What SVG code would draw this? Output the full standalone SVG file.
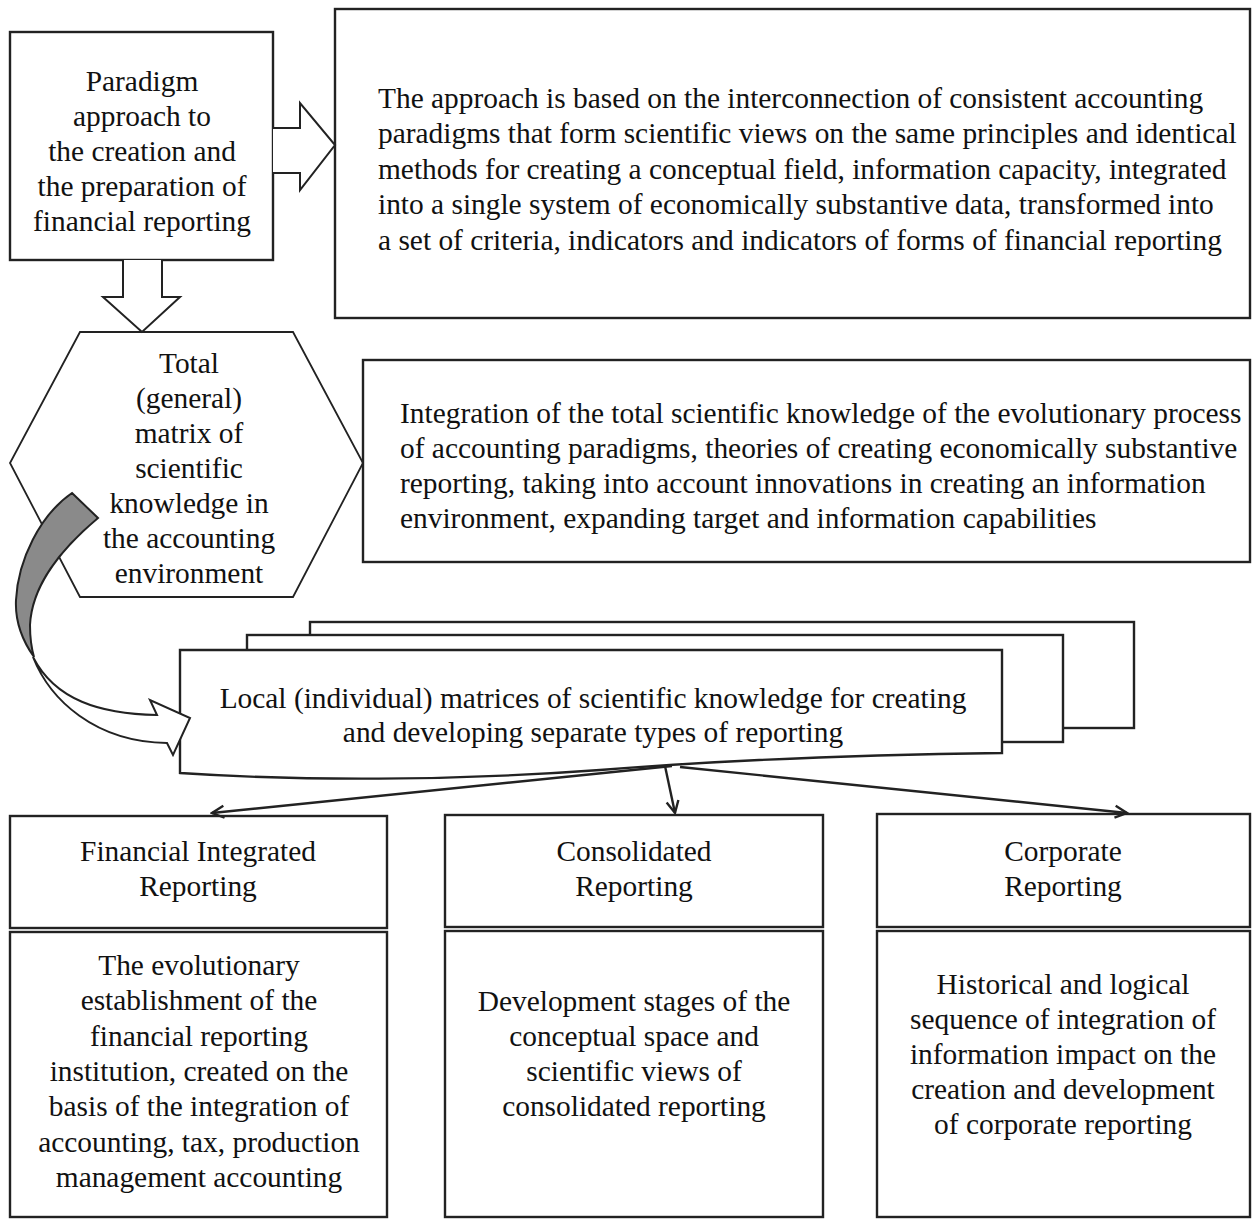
<svg xmlns="http://www.w3.org/2000/svg" width="1252" height="1221" viewBox="0 0 1252 1221">
<style>
.b{fill:#fff;stroke:#222;stroke-width:2.4}
.h{fill:#fff;stroke:#222;stroke-width:1.8}
.l{fill:none;stroke:#222;stroke-width:2.4}
.ba{fill:#fff;stroke:#222;stroke-width:2;stroke-linejoin:miter}
.t{font-family:"Liberation Serif","Times New Roman",serif;font-size:29.4px;fill:#111}
.c{text-anchor:middle}
</style>
<defs>
<marker id="ah" viewBox="0 0 16 16" refX="14" refY="8" markerWidth="16" markerHeight="16" markerUnits="userSpaceOnUse" orient="auto">
<path d="M2,2 L14,8 L2,14" fill="none" stroke="#222" stroke-width="2.4"/>
</marker>
</defs>
<rect width="1252" height="1221" fill="#fff"/>

<g id="paradigm">
<rect class="b" x="10" y="32" width="263" height="228"/>
<text class="t c" x="142" y="91">Paradigm</text>
<text class="t c" x="142" y="126">approach to</text>
<text class="t c" x="142" y="161">the creation and</text>
<text class="t c" x="142" y="196">the preparation of</text>
<text class="t c" x="142" y="231">financial reporting</text>
</g>

<g id="approach-desc">
<rect class="b" x="335" y="9" width="915" height="309"/>
<text class="t" x="378" y="108">The approach is based on the interconnection of consistent accounting</text>
<text class="t" x="378" y="143">paradigms that form scientific views on the same principles and identical</text>
<text class="t" x="378" y="179">methods for creating a conceptual field, information capacity, integrated</text>
<text class="t" x="378" y="214">into a single system of economically substantive data, transformed into</text>
<text class="t" x="378" y="250">a set of criteria, indicators and indicators of forms of financial reporting</text>
</g>

<g id="total-matrix">
<polygon class="h" points="80,332 293,332 363,463 293,597 80,597 10,463"/>
<text class="t c" x="189" y="373">Total</text>
<text class="t c" x="189" y="408">(general)</text>
<text class="t c" x="189" y="443">matrix of</text>
<text class="t c" x="189" y="478">scientific</text>
<text class="t c" x="189" y="513">knowledge in</text>
<text class="t c" x="189" y="548">the accounting</text>
<text class="t c" x="189" y="583">environment</text>
</g>

<g id="integration-desc">
<rect class="b" x="363" y="360" width="887" height="202"/>
<text class="t" x="400" y="423">Integration of the total scientific knowledge of the evolutionary process</text>
<text class="t" x="400" y="458">of accounting paradigms, theories of creating economically substantive</text>
<text class="t" x="400" y="493">reporting, taking into account innovations in creating an information</text>
<text class="t" x="400" y="528">environment, expanding target and information capabilities</text>
</g>

<g id="local-matrices">
<rect class="b" x="310" y="622" width="824" height="106"/>
<rect class="b" x="247" y="635" width="816" height="107"/>
<path class="b" d="M180,773 V650 H1002 V753 C 850,755 700,762 600,770 C 450,781 300,781 180,773 Z"/>
<text class="t c" x="593" y="708">Local (individual) matrices of scientific knowledge for creating</text>
<text class="t c" x="593" y="742">and developing separate types of reporting</text>
</g>

<g id="financial-integrated">
<rect class="b" x="10" y="816" width="377" height="112"/>
<text class="t c" x="198" y="861">Financial Integrated</text>
<text class="t c" x="198" y="896">Reporting</text>
<rect class="b" x="10" y="932" width="377" height="285"/>
<text class="t c" x="199" y="975">The evolutionary</text>
<text class="t c" x="199" y="1010">establishment of the</text>
<text class="t c" x="199" y="1046">financial reporting</text>
<text class="t c" x="199" y="1081">institution, created on the</text>
<text class="t c" x="199" y="1116">basis of the integration of</text>
<text class="t c" x="199" y="1152">accounting, tax, production</text>
<text class="t c" x="199" y="1187">management accounting</text>
</g>

<g id="consolidated">
<rect class="b" x="445" y="815" width="378" height="112"/>
<text class="t c" x="634" y="861">Consolidated</text>
<text class="t c" x="634" y="896">Reporting</text>
<rect class="b" x="445" y="931" width="378" height="286"/>
<text class="t c" x="634" y="1011">Development stages of the</text>
<text class="t c" x="634" y="1046">conceptual space and</text>
<text class="t c" x="634" y="1081">scientific views of</text>
<text class="t c" x="634" y="1116">consolidated reporting</text>
</g>

<g id="corporate">
<rect class="b" x="877" y="814" width="373" height="113"/>
<text class="t c" x="1063" y="861">Corporate</text>
<text class="t c" x="1063" y="896">Reporting</text>
<rect class="b" x="877" y="931" width="373" height="286"/>
<text class="t c" x="1063" y="994">Historical and logical</text>
<text class="t c" x="1063" y="1029">sequence of integration of</text>
<text class="t c" x="1063" y="1064">information impact on the</text>
<text class="t c" x="1063" y="1099">creation and development</text>
<text class="t c" x="1063" y="1134">of corporate reporting</text>
</g>

<g id="connectors">
<polyline class="ba" points="273,128 300,128 300,103 335,145 300,190 300,173 273,173"/>
<polyline class="ba" points="123,260 123,297 103,297 142,332 180,297 162,297 162,260"/>
<path d="M72,493 L98,518 C 60,550 32,585 30,625 C 30,640 32,650 34,657 C 22,640 15,620 16,600 C 18,560 40,515 72,493 Z" fill="#8a8a8a" stroke="#222" stroke-width="2"/>
<path d="M33,657 C 50,700 95,742 167,743 L173,755 L190,718 L150,700 L157,715 C 100,714 55,700 33,657 Z" fill="#fff" stroke="#222" stroke-width="2"/>
<line class="l" x1="672" y1="766" x2="212" y2="813" marker-end="url(#ah)"/>
<line class="l" x1="665" y1="766" x2="675" y2="813" marker-end="url(#ah)"/>
<line class="l" x1="680" y1="767" x2="1127" y2="813" marker-end="url(#ah)"/>
</g>
</svg>
